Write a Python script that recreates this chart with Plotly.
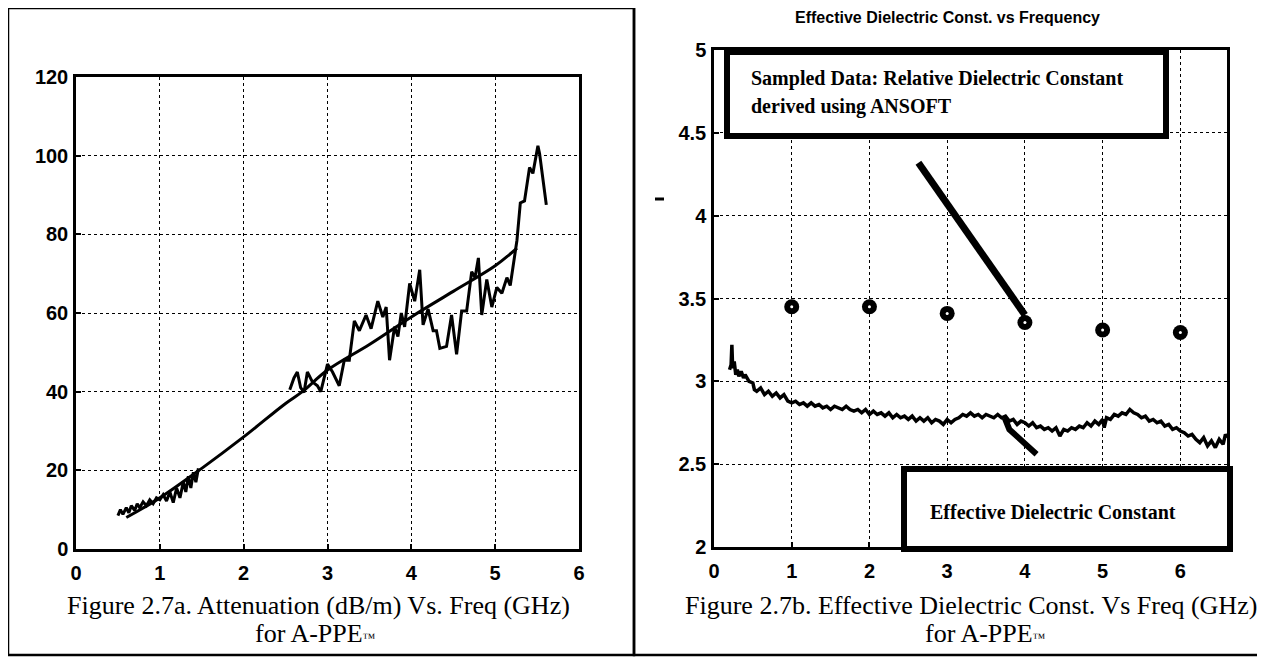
import plotly.graph_objects as go

W, H = 1265, 658
OFF = 8  # the page body adds an 8px margin; shift layout to compensate

# ---------------- Left panel data: Attenuation (dB/m) vs Freq (GHz)
freq_low = [0.50, 0.53, 0.56, 0.60, 0.63, 0.66, 0.70, 0.73, 0.76, 0.80, 0.84, 0.88, 0.92,
            0.96, 1.00, 1.04, 1.08, 1.12, 1.16, 1.20, 1.24, 1.28, 1.31, 1.34, 1.37, 1.40, 1.43, 1.46]
att_low = [8.5, 10.0, 8.8, 10.5, 9.2, 11.0, 9.8, 11.5, 10.5, 12.0, 11.0, 12.5, 11.5,
           13.0, 12.5, 13.8, 12.2, 14.5, 11.8, 15.5, 13.0, 17.0, 14.5, 18.5, 15.5, 19.5, 17.0, 20.5]

freq_high = [2.55, 2.60, 2.64, 2.68, 2.72, 2.76, 2.82, 2.88, 2.92, 3.00, 3.06, 3.14, 3.20, 3.26,
             3.32, 3.38, 3.46, 3.52, 3.60, 3.66, 3.70, 3.74, 3.80, 3.84, 3.88, 3.92, 3.98, 4.04,
             4.10, 4.14, 4.20, 4.26, 4.30, 4.34, 4.42, 4.48, 4.54, 4.60, 4.66, 4.72, 4.76, 4.80,
             4.84, 4.90, 4.96, 5.02, 5.08, 5.14, 5.18, 5.22, 5.26, 5.30, 5.35, 5.41, 5.45, 5.51,
             5.53, 5.61]
att_high = [40.5, 43.5, 45.0, 41.0, 39.8, 45.0, 42.5, 41.5, 40.0, 47.0, 45.0, 41.5, 48.0, 48.0,
            58.0, 55.5, 59.5, 56.0, 63.0, 59.0, 61.5, 48.0, 56.5, 54.0, 60.0, 56.5, 67.5, 63.0,
            71.0, 57.0, 61.0, 55.5, 55.5, 51.0, 51.5, 59.5, 49.5, 60.5, 60.5, 70.5, 69.0, 74.0,
            59.5, 68.5, 61.5, 66.5, 65.0, 69.0, 67.0, 72.5, 78.5, 88.0, 88.5, 97.0, 95.5, 102.5,
            100.5, 87.5]

freq_fit = [0.60, 1.00, 1.50, 2.00, 2.50, 2.70, 3.00, 3.50, 4.00, 4.50, 5.00, 5.26]
att_fit = [8.0, 13.0, 20.5, 28.5, 37.0, 40.0, 45.5, 52.0, 59.0, 65.5, 72.0, 76.5]

# ---------------- Right panel data: Effective dielectric constant vs Freq (GHz)
freq_eff = [0.20, 0.22, 0.23, 0.24, 0.26, 0.28, 0.30, 0.32, 0.35, 0.38, 0.40, 0.45, 0.50, 0.52,
            0.55, 0.60, 0.65, 0.70, 0.75, 0.80, 0.85, 0.90, 0.95, 1.00, 1.05, 1.10, 1.15, 1.20,
            1.25, 1.30, 1.35, 1.40, 1.45, 1.50, 1.55, 1.60, 1.65, 1.70, 1.75, 1.80, 1.85, 1.90,
            1.95, 2.00, 2.05, 2.10, 2.15, 2.20, 2.25, 2.30, 2.35, 2.40, 2.45, 2.50, 2.55, 2.60,
            2.65, 2.70, 2.75, 2.80, 2.85, 2.90, 2.95, 3.00, 3.05, 3.10, 3.15, 3.20, 3.25, 3.30,
            3.35, 3.40, 3.45, 3.50, 3.55, 3.60, 3.65, 3.70, 3.75, 3.80, 3.85, 3.90, 3.95, 4.00,
            4.05, 4.10, 4.15, 4.20, 4.25, 4.30, 4.35, 4.40, 4.45, 4.50, 4.55, 4.60, 4.65, 4.70,
            4.75, 4.80, 4.85, 4.90, 4.95, 5.00, 5.02, 5.05, 5.10, 5.15, 5.20, 5.25, 5.30, 5.35,
            5.40, 5.45, 5.50, 5.55, 5.60, 5.65, 5.70, 5.75, 5.80, 5.85, 5.90, 5.95, 6.00, 6.05,
            6.10, 6.15, 6.20, 6.25, 6.30, 6.35, 6.40, 6.45, 6.50, 6.55, 6.58, 6.60]
eps_eff = [3.07, 3.10, 3.22, 3.08, 3.12, 3.04, 3.07, 3.03, 3.06, 3.02, 3.04, 3.00, 2.99, 2.95,
           2.94, 2.96, 2.92, 2.94, 2.91, 2.93, 2.90, 2.92, 2.88, 2.87, 2.88, 2.86, 2.87, 2.85,
           2.87, 2.85, 2.86, 2.84, 2.85, 2.83, 2.85, 2.84, 2.83, 2.85, 2.83, 2.82, 2.83, 2.81,
           2.83, 2.80, 2.82, 2.80, 2.81, 2.79, 2.81, 2.78, 2.80, 2.78, 2.79, 2.77, 2.79, 2.76,
           2.78, 2.76, 2.78, 2.75, 2.77, 2.76, 2.74, 2.77, 2.75, 2.77, 2.78, 2.80, 2.79, 2.81,
           2.79, 2.80, 2.78, 2.80, 2.79, 2.78, 2.80, 2.78, 2.79, 2.76, 2.77, 2.74, 2.76, 2.75,
           2.73, 2.75, 2.72, 2.73, 2.71, 2.72, 2.70, 2.72, 2.67, 2.71, 2.70, 2.72, 2.71, 2.73,
           2.72, 2.75, 2.73, 2.76, 2.74, 2.77, 2.72, 2.78, 2.77, 2.80, 2.79, 2.81, 2.80, 2.83,
           2.81, 2.80, 2.78, 2.79, 2.76, 2.77, 2.75, 2.76, 2.73, 2.74, 2.71, 2.72, 2.70, 2.69,
           2.67, 2.68, 2.65, 2.63, 2.66, 2.61, 2.64, 2.60, 2.65, 2.62, 2.68, 2.66]

freq_sampled = [1, 2, 3, 4, 5, 6]
eps_sampled = [3.45, 3.45, 3.41, 3.355, 3.31, 3.295]

# pointer lines (annotation arrows drawn in the original figure)
arrow1_x = [2.63, 4.0]
arrow1_y = [4.32, 3.40]
arrow2_x = [3.74, 3.80, 4.15]
arrow2_y = [2.78, 2.71, 2.56]

left_xticks = [0, 1, 2, 3, 4, 5, 6]
left_yticks = [0, 20, 40, 60, 80, 100, 120]
right_xticks = [0, 1, 2, 3, 4, 5, 6]
right_yticks = [2, 2.5, 3, 3.5, 4, 4.5, 5]
right_yticklabels = ["2", "2.5", "3", "3.5", "4", "4.5", "5"]

title_right = "Effective Dielectric Const. vs Frequency"
caption_a1 = "Figure 2.7a. Attenuation (dB/m) Vs. Freq (GHz)"
caption_a2 = "for A-PPE<span style='font-size:13px'>™</span>"
caption_b1 = "Figure 2.7b. Effective Dielectric Const. Vs Freq (GHz)"
caption_b2 = "for A-PPE<span style='font-size:13px'>™</span>"
box1_line1 = "Sampled Data: Relative Dielectric Constant"
box1_line2 = "derived using ANSOFT"
box2_text = "Effective Dielectric Constant"


def px(x):
    return (x - OFF) / W


def py(y):
    return 1 - (y - OFF) / H


fig = go.Figure()

# left: measured attenuation (two bands) and fitted curve
fig.add_trace(go.Scatter(x=freq_low + [None] + freq_high, y=att_low + [None] + att_high,
                         mode="lines", line=dict(color="black", width=3),
                         xaxis="x", yaxis="y", showlegend=False, connectgaps=False))
fig.add_trace(go.Scatter(x=freq_fit, y=att_fit, mode="lines",
                         line=dict(color="black", width=3, shape="spline"),
                         xaxis="x", yaxis="y", showlegend=False))

# right: effective dielectric constant curve
fig.add_trace(go.Scatter(x=freq_eff, y=eps_eff, mode="lines",
                         line=dict(color="black", width=3.5),
                         xaxis="x2", yaxis="y2", showlegend=False))
fig.add_trace(go.Scatter(x=freq_sampled, y=eps_sampled, mode="markers",
                         marker=dict(color="black", size=15, symbol="circle"),
                         xaxis="x2", yaxis="y2", showlegend=False))
fig.add_trace(go.Scatter(x=freq_sampled, y=eps_sampled, mode="markers",
                         marker=dict(color="white", size=3, symbol="circle"),
                         xaxis="x2", yaxis="y2", showlegend=False))
fig.add_trace(go.Scatter(x=arrow1_x, y=arrow1_y, mode="lines",
                         line=dict(color="black", width=7),
                         xaxis="x2", yaxis="y2", showlegend=False))
fig.add_trace(go.Scatter(x=arrow2_x, y=arrow2_y, mode="lines",
                         line=dict(color="black", width=6),
                         xaxis="x2", yaxis="y2", showlegend=False))

tickfont = dict(family="Liberation Sans", size=20, color="black", weight="bold")
axis_common = dict(showgrid=True, gridcolor="black", griddash="dot", gridwidth=1,
                   showline=True, linecolor="black", linewidth=2.5, mirror=True,
                   ticks="inside", ticklen=5, tickcolor="black", tickwidth=1.5,
                   zeroline=False, tickfont=tickfont, fixedrange=True, automargin=False)

fig.update_layout(
    template="none",
    width=W, height=H, autosize=False,
    margin=dict(l=0, r=0, t=0, b=0, pad=0, autoexpand=False),
    paper_bgcolor="white", plot_bgcolor="white",
    showlegend=False,
    xaxis=dict(domain=[px(76), px(579)], range=[0, 6], tickvals=left_xticks,
               anchor="y", ticklabelstandoff=4, **axis_common),
    yaxis=dict(domain=[py(549), py(77)], range=[0, 120], tickvals=left_yticks,
               anchor="x", ticklabelstandoff=1, **axis_common),
    xaxis2=dict(domain=[px(714), px(1227)], range=[0, 6.6], tickvals=right_xticks,
                anchor="y2", ticklabelstandoff=4, **axis_common),
    yaxis2=dict(domain=[py(547), py(50)], range=[2, 5], tickvals=right_yticks,
                ticktext=right_yticklabels, anchor="x2", ticklabelstandoff=1, **axis_common),
)

shapes = []
# outer panel frames
shapes.append(dict(type="rect", xref="paper", yref="paper", x0=px(8), x1=px(634),
                   y0=py(655), y1=py(8), line=dict(color="black", width=2.5)))
shapes.append(dict(type="rect", xref="paper", yref="paper", x0=px(634), x1=px(1259),
                   y0=py(655), y1=py(5), line=dict(color="black", width=2.5)))
# annotation boxes (right panel)
shapes.append(dict(type="rect", xref="paper", yref="paper", x0=px(727), x1=px(1166),
                   y0=py(136), y1=py(52), line=dict(color="black", width=6),
                   fillcolor="white", layer="above"))
shapes.append(dict(type="rect", xref="paper", yref="paper", x0=px(904), x1=px(1230),
                   y0=py(549), y1=py(469), line=dict(color="black", width=6),
                   fillcolor="white", layer="above"))
# stray dash near the right y axis
shapes.append(dict(type="line", xref="paper", yref="paper", x0=px(655), x1=px(664),
                   y0=py(199), y1=py(199), line=dict(color="black", width=3)))
fig.update_layout(shapes=shapes)

serif = "Liberation Serif"
ann = []


def add_text(text, x, y, size, family, xanchor="center"):
    ann.append(dict(text=text, x=px(x), y=py(y), xref="paper", yref="paper",
                    xanchor=xanchor, yanchor="middle", showarrow=False,
                    font=dict(family=family, size=size, color="black")))


add_text("<b>" + title_right + "</b>", 947, 18, 16, "Liberation Sans")
add_text(caption_a1, 318, 605, 26, serif)
add_text(caption_a2, 315, 633, 26, serif)
add_text(caption_b1, 971, 605, 26, serif)
add_text(caption_b2, 985, 633, 26, serif)
add_text("<b>" + box1_line1 + "</b>", 749, 79, 20, serif, xanchor="left")
add_text("<b>" + box1_line2 + "</b>", 749, 106, 20, serif, xanchor="left")
add_text("<b>" + box2_text + "</b>", 1053, 512, 20, serif)
fig.update_layout(annotations=ann)

fig.write_html("out.html")
